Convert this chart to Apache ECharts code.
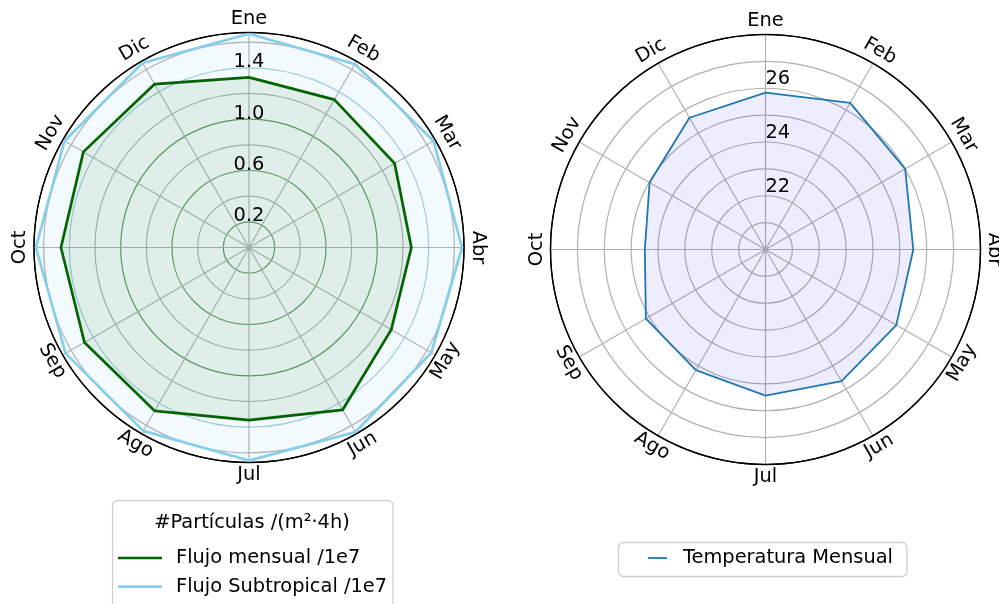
<!DOCTYPE html>
<html><head><meta charset="utf-8">
<script src="https://cdn.jsdelivr.net/npm/echarts@6/dist/echarts.min.js"></script>
<style>html,body{margin:0;padding:0;background:#fff}#c{width:999px;height:604px}</style>
</head><body><div id="c"></div>
<script>
// ---- data ----
const months = ['Ene','Feb','Mar','Abr','May','Jun','Jul','Ago','Sep','Oct','Nov','Dic'];
const flujoMensual = [1.325, 1.33, 1.31, 1.265, 1.28, 1.46, 1.345, 1.47, 1.48, 1.465, 1.49, 1.47];
const flujoSubtropical = [1.665, 1.65, 1.66, 1.66, 1.64, 1.66, 1.66, 1.65, 1.65, 1.66, 1.66, 1.66];
const temperatura = [25.84, 26.3, 26.0, 25.5, 25.62, 25.66, 25.44, 25.18, 25.14, 24.49, 24.98, 25.66];
const leftTickLabels = [0.2, 0.6, 1.0, 1.4];
const rightTickLabels = [22, 24, 26];
const leftRange = [0, 1.675];
const rightRange = [20, 28];

// ---- styles ----
const FONT = '"DejaVu Sans", sans-serif';
const FS = 19.4;
const GRAY = '#b0b0b0';
const GREEN_GRID = '#5f935f';
const BLUE_GRID = '#a0c9dc';

function closed(vals) {
  const d = vals.map((v, i) => [v, i]);
  d.push([vals[0], vals.length]);
  return d;
}

function monthLabelRenderer(off) {
  return function (params, api) {
    const idx = api.value(1);
    const p = api.coord([api.value(0), idx]);
    const cs = params.coordSys;
    const dx = p[0] - cs.cx, dy = p[1] - cs.cy;
    const len = Math.hypot(dx, dy) || 1;
    const ux = dx / len, uy = dy / len;
    let theta = Math.atan2(ux, -uy) * 180 / Math.PI;
    if (theta < 0) theta += 360;
    const rot = (theta > 90.5 && theta < 269.5) ? 180 - theta : -theta;
    const rr = rot * Math.PI / 180;
    const sh = 1.0;
    const x = p[0] + ux * off - Math.sin(rr) * sh;
    const y = p[1] + uy * off - Math.cos(rr) * sh;
    return {
      type: 'text', x: x, y: y, rotation: rr,
      style: { text: months[idx % months.length], fill: '#000', font: FS + 'px ' + FONT, align: 'center', verticalAlign: 'middle' }
    };
  };
}

function radialLabelRenderer(align, dy, digits) {
  return function (params, api) {
    const v = api.value(0);
    const p = api.coord([v, api.value(1)]);
    return {
      type: 'text', x: p[0], y: p[1] + dy,
      style: { text: digits ? v.toFixed(digits) : String(v), fill: '#000', font: FS + 'px ' + FONT, align: align, verticalAlign: 'bottom' }
    };
  };
}

const chart = echarts.init(document.getElementById('c'), null, { renderer: 'canvas' });

const angleAxisBase = {
  type: 'value', min: 0, max: months.length, interval: 1, startAngle: 90, clockwise: true,
  axisLine: { show: true, lineStyle: { color: '#000', width: 1.4 } },
  axisTick: { show: false }, axisLabel: { show: false },
  splitLine: { show: true, lineStyle: { color: GRAY, width: 1.2 } }
};

const legendText = { fontFamily: FONT, fontSize: FS, color: '#000', lineHeight: 20 };

const option = {
  animation: false,
  textStyle: { fontFamily: FONT },
  polar: [
    { center: [249, 247.5], radius: 215 },
    { center: [765.5, 249.5], radius: 215 }
  ],
  angleAxis: [
    Object.assign({ polarIndex: 0 }, angleAxisBase),
    Object.assign({ polarIndex: 1 }, angleAxisBase)
  ],
  radiusAxis: [
    {
      polarIndex: 0, type: 'value', min: leftRange[0], max: leftRange[1], interval: 0.2,
      axisLine: { show: false }, axisTick: { show: false }, axisLabel: { show: false },
      splitLine: { show: true, lineStyle: { width: 1.2, color: [GRAY, GREEN_GRID, GRAY, GREEN_GRID, GRAY, GREEN_GRID, GRAY, BLUE_GRID, GRAY, '#000'] } }
    },
    {
      polarIndex: 1, type: 'value', min: rightRange[0], max: rightRange[1], interval: 1,
      axisLine: { show: false }, axisTick: { show: false }, axisLabel: { show: false },
      splitLine: { show: true, lineStyle: { width: 1.2, color: [GRAY, GRAY, GRAY, GRAY, GRAY, GRAY, GRAY, GRAY, '#000'] } }
    }
  ],
  legend: [
    {
      data: ['Flujo mensual /1e7', 'Flujo Subtropical /1e7'],
      orient: 'vertical', left: 118, top: 548, selectedMode: false, z: 20,
      padding: 0, icon: 'rect', itemWidth: 44, itemHeight: 2.7, itemGap: 8.7,
      textStyle: Object.assign({ padding: [0, 0, 0, 9] }, legendText)
    },
    {
      data: ['Temperatura Mensual'],
      orient: 'vertical', left: 648, top: 548, selectedMode: false, z: 20,
      padding: 0, icon: 'rect', itemWidth: 19, itemHeight: 1.8,
      textStyle: Object.assign({ padding: [0, 0, 0, 11] }, legendText)
    }
  ],
  graphic: [
    {
      type: 'rect', z: 1,
      shape: { x: 112.5, y: 500.5, width: 280.5, height: 120, r: 5 },
      style: { fill: '#fff', stroke: '#d0d0d0', lineWidth: 1.3 }
    },
    {
      type: 'rect', z: 1,
      shape: { x: 618.5, y: 542.5, width: 288.5, height: 34, r: 5 },
      style: { fill: '#fff', stroke: '#d0d0d0', lineWidth: 1.3 }
    },
    {
      type: 'text', x: 252, y: 523, z: 100,
      style: { text: '#Partículas /(m²·4h)', fill: '#000', font: FS + 'px ' + FONT, align: 'center', verticalAlign: 'middle' }
    }
  ],
  series: [
    {
      name: 'Flujo Subtropical /1e7', type: 'line', coordinateSystem: 'polar', polarIndex: 0,
      data: closed(flujoSubtropical), symbol: 'none', showSymbol: false, smooth: false,
      lineStyle: { color: '#87ceeb', width: 2.7 }, itemStyle: { color: '#87ceeb' },
      areaStyle: { color: 'rgba(135,206,235,0.14)' }, z: 3
    },
    {
      name: 'Flujo mensual /1e7', type: 'line', coordinateSystem: 'polar', polarIndex: 0,
      data: closed(flujoMensual), symbol: 'none', showSymbol: false,
      lineStyle: { color: '#006400', width: 2.7 }, itemStyle: { color: '#006400' },
      areaStyle: { color: 'rgba(0,100,0,0.11)' }, z: 4
    },
    {
      name: 'Temperatura Mensual', type: 'line', coordinateSystem: 'polar', polarIndex: 1,
      data: closed(temperatura), symbol: 'none', showSymbol: false,
      lineStyle: { color: '#1f77b4', width: 1.8 }, itemStyle: { color: '#1f77b4' },
      areaStyle: { color: 'rgba(0,0,230,0.1)' }, z: 4
    },
    {
      type: 'custom', coordinateSystem: 'polar', polarIndex: 0, silent: true, clip: false, z: 10,
      data: months.map((m, i) => [leftRange[1], i]),
      renderItem: monthLabelRenderer(13)
    },
    {
      type: 'custom', coordinateSystem: 'polar', polarIndex: 1, silent: true, clip: false, z: 10,
      data: months.map((m, i) => [rightRange[1], i]),
      renderItem: monthLabelRenderer(13)
    },
    {
      type: 'custom', coordinateSystem: 'polar', polarIndex: 0, silent: true, clip: false, z: 10,
      data: leftTickLabels.map(v => [v, 0]),
      renderItem: radialLabelRenderer('center', 4, 1)
    },
    {
      type: 'custom', coordinateSystem: 'polar', polarIndex: 1, silent: true, clip: false, z: 10,
      data: rightTickLabels.map(v => [v, 0]),
      renderItem: radialLabelRenderer('left', 0.5, 0)
    }
  ]
};
chart.setOption(option);
</script></body></html>
